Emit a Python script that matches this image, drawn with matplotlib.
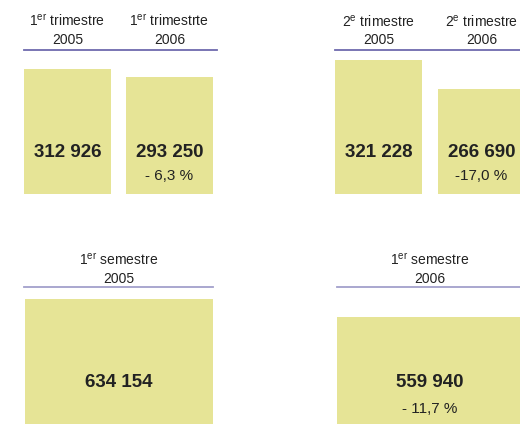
import matplotlib
matplotlib.use("Agg")
import matplotlib.pyplot as plt
import matplotlib.transforms as mtransforms

plt.rcParams['font.family'] = ['Liberation Sans', 'DejaVu Sans']
plt.rcParams['mathtext.fontset'] = 'custom'
plt.rcParams['mathtext.rm'] = 'Liberation Sans'

# donnees
entetes_t1 = ["1$^{\\mathrm{er}}$ trimestre\n2005", "1$^{\\mathrm{er}}$ trimestrte\n2006"]
valeurs_t1 = [312926, 293250]
pct_t1 = ["", "- 6,3 %"]

entetes_t2 = ["2$^{\\mathrm{e}}$ trimestre\n2005", "2$^{\\mathrm{e}}$ trimestre\n2006"]
valeurs_t2 = [321228, 266690]
pct_t2 = ["", "-17,0 %"]

entetes_s1 = ["1$^{\\mathrm{er}}$ semestre\n2005"]
valeurs_s1 = [634154]
pct_s1 = [""]

entetes_s2 = ["1$^{\\mathrm{er}}$ semestre\n2006"]
valeurs_s2 = [559940]
pct_s2 = ["- 11,7 %"]

JAUNE = "#e6e496"
TEXTE = "#222222"
W, H = 520, 424

fig = plt.figure(figsize=(5.2, 4.24), dpi=100)


def panneau(px, entetes, valeurs, pcts, largeur, xlim, ylim, couleur_ligne,
            y_val, y_pct, off2, off1):
    g, d, h, b = px
    ax = fig.add_axes([g / W, 1 - b / H, (d - g) / W, (b - h) / H])
    xs = list(range(len(valeurs)))
    ax.bar(xs, valeurs, width=largeur, color=JAUNE)
    ax.set_xlim(*xlim)
    ax.set_ylim(*ylim)
    for s in ["left", "right", "bottom"]:
        ax.spines[s].set_visible(False)
    ax.spines["top"].set_color(couleur_ligne)
    ax.spines["top"].set_linewidth(1.3)
    ax.set_xticks([])
    ax.set_yticks([])
    ax.patch.set_visible(False)
    tr = mtransforms.blended_transform_factory(ax.transData, ax.transAxes)
    for x, e, v, p in zip(xs, entetes, valeurs, pcts):
        l1, l2 = e.split("\n")
        ax.annotate(l1, xy=(x, 1), xycoords=tr, xytext=(0, off1),
                    textcoords="offset pixels", ha="center", va="baseline",
                    fontsize=10, color=TEXTE, annotation_clip=False)
        ax.annotate(l2, xy=(x, 1), xycoords=tr, xytext=(0, off2),
                    textcoords="offset pixels", ha="center", va="baseline",
                    fontsize=10, color=TEXTE, annotation_clip=False)
        ax.text(x, y_val, f"{v:,}".replace(",", " "), transform=tr,
                ha="center", va="baseline", fontsize=13.5, fontweight="bold",
                color=TEXTE)
        if p:
            ax.text(x, y_pct, p, transform=tr, ha="center", va="baseline",
                    fontsize=11, color=TEXTE)
    return ax


panneau((24, 217, 50, 194), entetes_t1, valeurs_t1, pct_t1, 0.853,
        (-0.4265, 1.466), (0, 360500), "#6e6aae", 0.257, 0.097, 6, 23.5)
panneau((335, 520, 50, 194), entetes_t2, valeurs_t2, pct_t2, 0.845,
        (-0.4225, 1.374), (69180, 339857), "#6e6aae", 0.257, 0.097, 6, 23.5)
panneau((24, 213, 287, 424), entetes_s1, valeurs_s1, pct_s1, 1.0,
        (-0.505, 0.5), (0, 695030), "#a3a0cc", 0.270, 0.080, 4, 22)
panneau((337, 520, 287, 424), entetes_s2, valeurs_s2, pct_s2, 1.0,
        (-0.5, 0.484), (0, 716930), "#a3a0cc", 0.270, 0.080, 4, 22)

fig.savefig("out.png", dpi=100)
